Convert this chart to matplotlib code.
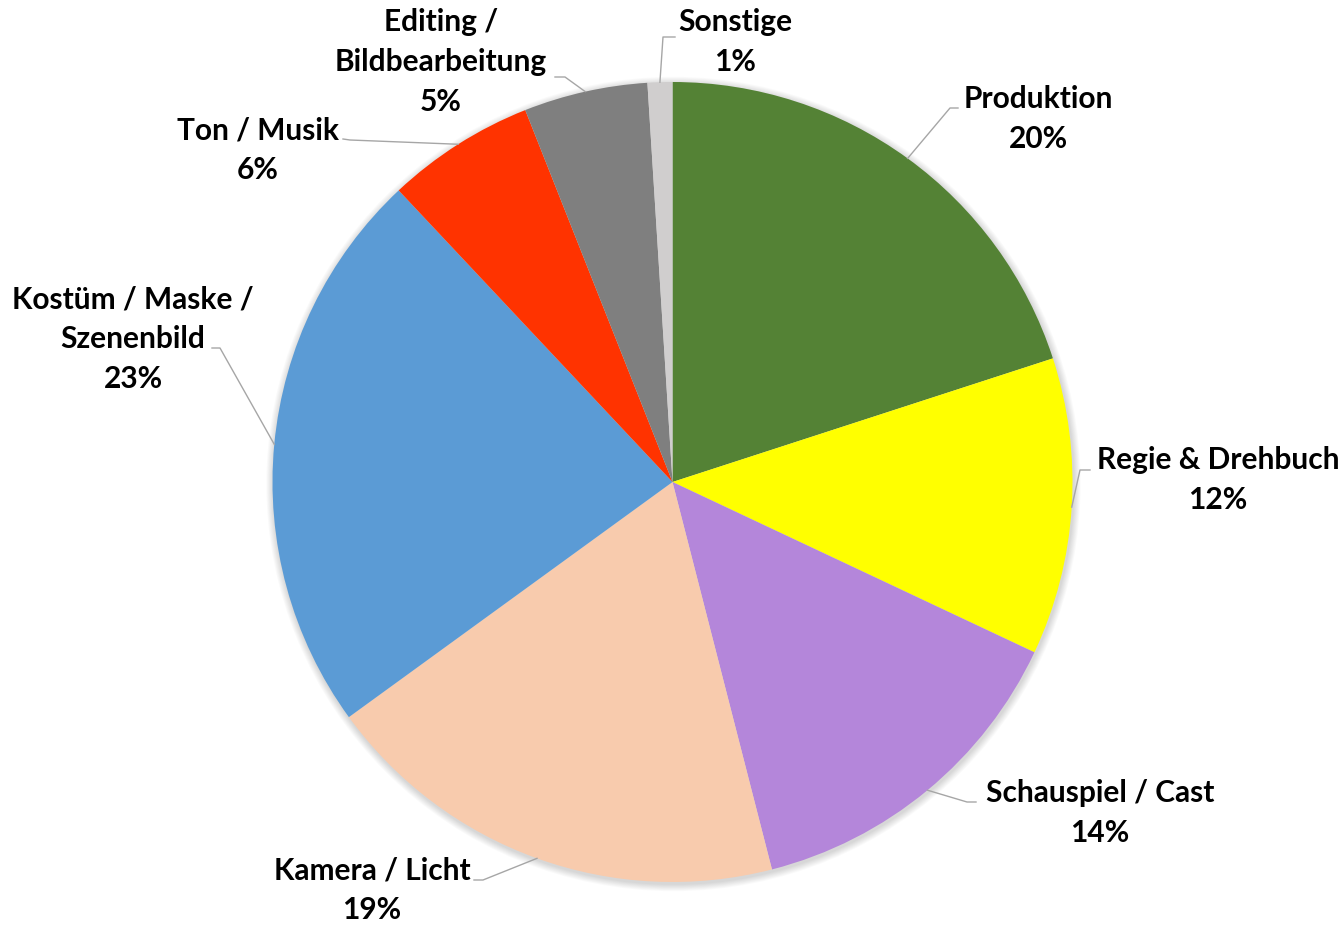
import numpy as np
import matplotlib
matplotlib.use("Agg")
import matplotlib.pyplot as plt
from matplotlib.patches import Circle

plt.rcParams['font.family'] = ['Lato', 'DejaVu Sans']

categories = ['Produktion', 'Regie & Drehbuch', 'Schauspiel / Cast', 'Kamera / Licht',
              'Kostüm / Maske /\nSzenenbild', 'Ton / Musik', 'Editing /\nBildbearbeitung', 'Sonstige']
values = [20, 12, 14, 19, 23, 6, 5, 1]
colors = ['#548235', '#FFFF00', '#B486DA', '#F8CBAD', '#5B9BD5', '#FF3300', '#7F7F7F', '#D0CECE']

W, H = 1343, 925
fig = plt.figure(figsize=(W / 100, H / 100), dpi=100)
ax = fig.add_axes([0, 0, 1, 1])

cx, cy, r = 672.5, H - 482, 400

# soft shadow behind the pie
for i in range(8, 0, -1):
    ax.add_patch(Circle((cx + 1, cy - 2), r + i * 0.9, color='black', alpha=0.018, lw=0, zorder=0))

wedges, _ = ax.pie(values, colors=colors, startangle=90, counterclock=False,
                   center=(cx, cy), radius=r, wedgeprops=dict(linewidth=0))
for w in wedges:
    w.set_zorder(1)

ax.set_xlim(0, W)
ax.set_ylim(0, H)
ax.set_aspect('equal')
ax.axis('off')

# label block centres and leader elbows, in pixel coords from the top-left
label_pos = [(1038, 119), (1218, 480), (1100, 813), (372, 890),
             (133, 339), (258, 150), (441, 62), (735, 42)]
elbows = [[(950, 108), (958, 108)],
          [(1080, 470), (1090, 470)],
          [(967, 802), (976, 802)],
          [(483, 880), (474, 880)],
          [(220, 348), (212, 348)],
          [(350, 140), (343, 139)],
          [(565, 77), (555, 77)],
          [(663, 37), (675, 37)]]

for w, name, v, (lx, ly), elb in zip(wedges, categories, values, label_pos, elbows):
    mid = np.deg2rad((w.theta1 + w.theta2) / 2)
    sx, sy = cx + r * np.cos(mid), cy + r * np.sin(mid)
    xs = [sx] + [p[0] for p in elb]
    ys = [sy] + [H - p[1] for p in elb]
    ax.plot(xs, ys, color='#A6A6A6', lw=1.0, zorder=2)
    ax.text(lx, H - ly, f'{name}\n{v}%', ha='center', va='center', multialignment='center',
            fontsize=21.5, fontweight='bold', color='black', linespacing=1.52, zorder=3)

fig.savefig('out.png', dpi=100, facecolor='white')
